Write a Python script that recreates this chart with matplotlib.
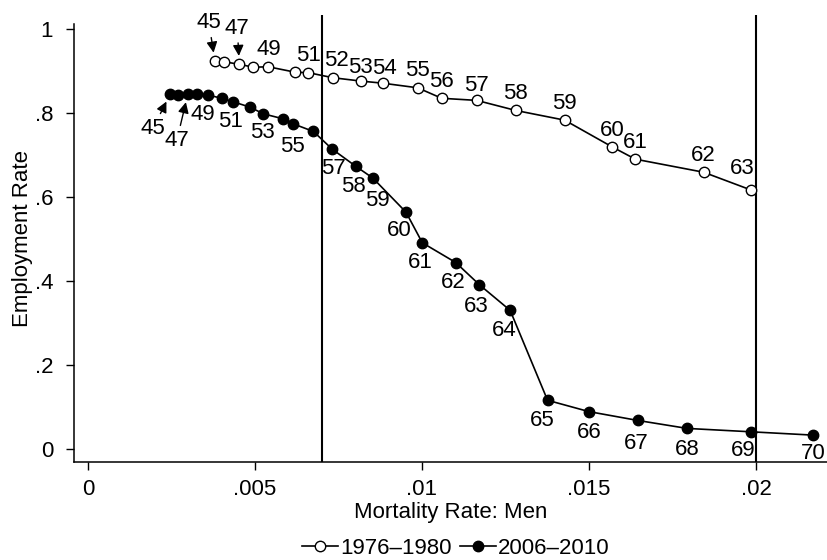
import matplotlib
matplotlib.use("Agg")
import matplotlib.pyplot as plt

plt.rcParams['font.family'] = ['Liberation Sans', 'DejaVu Sans']

# ---------------- data ----------------
ages_1976 = list(range(45, 64))
mort_1976 = [0.00380, 0.00407, 0.00453, 0.00495, 0.00540, 0.00621, 0.00660,
             0.00733, 0.00817, 0.00882, 0.00987, 0.01059, 0.01164, 0.01281,
             0.01427, 0.01570, 0.01639, 0.01843, 0.01984]
emp_1976 = [0.924, 0.922, 0.916, 0.909, 0.910, 0.897, 0.896, 0.884, 0.876,
            0.871, 0.860, 0.835, 0.830, 0.806, 0.783, 0.719, 0.690, 0.659,
            0.617]

ages_2006 = list(range(45, 71))
mort_2006 = [0.00246, 0.00269, 0.00299, 0.00325, 0.00359, 0.00400, 0.00433,
             0.00485, 0.00525, 0.00585, 0.00615, 0.00675, 0.00731, 0.00802,
             0.00853, 0.00952, 0.01001, 0.01101, 0.01172, 0.01264, 0.01376,
             0.01500, 0.01646, 0.01794, 0.01984, 0.02172]
emp_2006 = [0.845, 0.844, 0.845, 0.845, 0.843, 0.835, 0.827, 0.814, 0.798,
            0.786, 0.774, 0.756, 0.714, 0.673, 0.645, 0.564, 0.491, 0.444,
            0.391, 0.330, 0.116, 0.089, 0.068, 0.049, 0.041, 0.033]

labels_1976 = [49, 51] + list(range(52, 64))
arrow_labels_1976 = [45, 47]
labels_2006 = [49, 51, 53, 55] + list(range(57, 71))
arrow_labels_2006 = [45, 47]

xlines = [0.007, 0.02]
xticks = [0, 0.005, 0.01, 0.015, 0.02]
xticklabels = ['0', '.005', '.01', '.015', '.02']
yticks = [0, 0.2, 0.4, 0.6, 0.8, 1.0]
yticklabels = ['0', '.2', '.4', '.6', '.8', '1']

# ---------------- figure ----------------
W, H = 828, 560
fig = plt.figure(figsize=(W / 100, H / 100), dpi=100)
ax = fig.add_axes([74 / W, (H - 462) / H, (828 - 74) / W, (462 - 15) / H])

FS = 16
ax.set_xlim(-0.000419, 0.022156)
ax.set_ylim(-0.03095, 1.0333)

for xv in xlines:
    ax.axvline(xv, color='black', lw=1.5, zorder=1)

l1, = ax.plot(mort_1976, emp_1976, '-o', color='black', lw=1.2,
              markerfacecolor='white', markeredgecolor='black',
              markeredgewidth=1.0, markersize=7.5, zorder=3, label='1976\u20131980')
l2, = ax.plot(mort_2006, emp_2006, '-o', color='black', lw=1.2,
              markerfacecolor='black', markeredgecolor='black',
              markersize=7.5, zorder=3, label='2006\u20132010')

# label offsets (pixels)
off_1976_default = (0, 17)
off_1976_special = {52: (4, 17), 53: (0, 14), 54: (2, 15), 57: (0, 15), 63: (-8, 21)}
off_2006_default = (-2, -20)
off_2006_special = {49: (-5, -20), 53: (-1, -19), 55: (-1, -23), 57: (1, -19),
                    59: (4, -22), 60: (-7, -18), 63: (-3, -22), 64: (-6, -20),
                    65: (-5, -20), 66: (0, -21), 67: (-2, -23), 68: (0, -21),
                    69: (-7, -19), 70: (0, -18)}

for a, x, y in zip(ages_1976, mort_1976, emp_1976):
    if a in labels_1976:
        dx, dy = off_1976_special.get(a, off_1976_default)
        ax.annotate(str(a), (x, y), xytext=(dx, dy), textcoords='offset pixels',
                    ha='center', va='center', fontsize=FS, zorder=4)
for a, x, y in zip(ages_2006, mort_2006, emp_2006):
    if a in labels_2006:
        dx, dy = off_2006_special.get(a, off_2006_default)
        ax.annotate(str(a), (x, y), xytext=(dx, dy), textcoords='offset pixels',
                    ha='center', va='center', fontsize=FS, zorder=4)

arrow_off_1976 = {45: (-6, 38), 47: (-2, 36)}
arrow_off_2006 = {45: (-17, -34), 47: (-11, -46)}
aprops = dict(arrowstyle='-|>', color='black', lw=1.0, shrinkA=1, shrinkB=6,
              mutation_scale=16)
for a, x, y in zip(ages_1976, mort_1976, emp_1976):
    if a in arrow_labels_1976:
        ax.annotate(str(a), (x, y), xytext=arrow_off_1976[a], textcoords='offset pixels',
                    ha='center', va='center', fontsize=FS, arrowprops=aprops, zorder=4)
for a, x, y in zip(ages_2006, mort_2006, emp_2006):
    if a in arrow_labels_2006:
        ax.annotate(str(a), (x, y), xytext=arrow_off_2006[a], textcoords='offset pixels',
                    ha='center', va='center', fontsize=FS, arrowprops=aprops, zorder=4)

# axes styling
for s in ['top', 'right']:
    ax.spines[s].set_visible(False)
ax.spines['left'].set_bounds(-0.03095, 1.012)
ax.spines['left'].set_linewidth(1.1)
ax.spines['bottom'].set_linewidth(1.1)

ax.set_xticks(xticks)
ax.set_xticklabels(xticklabels)
ax.set_yticks(yticks)
ax.set_yticklabels(yticklabels)
ax.tick_params(axis='both', labelsize=FS, length=6, width=1.0, direction='out')
ax.tick_params(axis='y', pad=9)
ax.tick_params(axis='x', pad=6)

ax.set_xlabel('Mortality Rate: Men', fontsize=FS, labelpad=2)
ax.set_ylabel('Employment Rate', fontsize=FS, labelpad=1)

fig.legend(handles=[l1, l2], loc='center', bbox_to_anchor=(456 / W, 12 / H),
           ncol=2, frameon=False, fontsize=FS, handlelength=1.6,
           handletextpad=0.1, columnspacing=0.4, numpoints=1, borderpad=0)

fig.savefig('out.png', dpi=100)
